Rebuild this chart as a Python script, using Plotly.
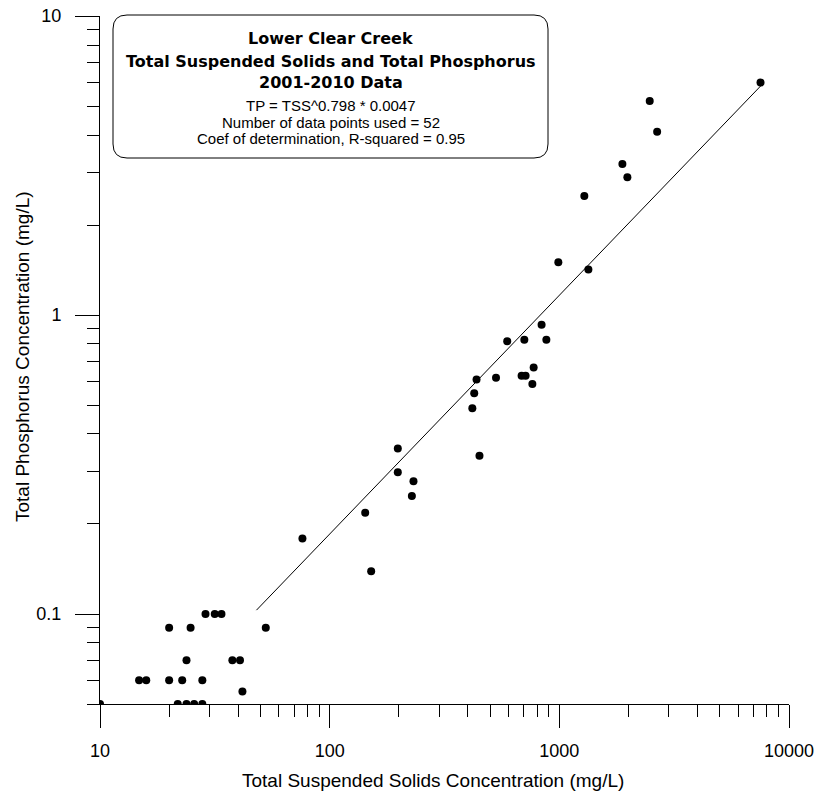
import plotly.graph_objects as go

# Observed data (TSS mg/L, TP mg/L)
tss = [10, 14.8, 15.9, 20, 20, 21.8, 23.8, 25.7, 27.9, 22.8, 23.8, 24.8, 27.9,
       28.8, 31.6, 33.8, 37.7, 40.7, 41.7, 52.7,
       76.1, 142.8, 151.6,
       198, 198, 231.7, 228, 449, 418, 426, 436, 530, 593, 704, 685, 713, 773, 763, 837, 878,
       7516, 2475, 2666, 1882, 1978, 1285, 990, 1338]
tp = [0.05, 0.06, 0.06, 0.09, 0.06, 0.05, 0.05, 0.05, 0.05, 0.06, 0.07, 0.09, 0.06,
      0.1, 0.1, 0.1, 0.07, 0.07, 0.055, 0.09,
      0.179, 0.218, 0.139,
      0.358, 0.298, 0.278, 0.248, 0.338, 0.488, 0.547, 0.608, 0.617, 0.817, 0.826, 0.626, 0.626, 0.667, 0.588, 0.927, 0.826,
      5.99, 5.2, 4.1, 3.2, 2.89, 2.5, 1.5, 1.42]

# Regression line endpoints
fit_x = [48, 7600]
fit_y = [0.103, 5.88]

x_major = [10, 100, 1000, 10000]
x_major_text = ["10", "100", "1000", "10000"]
y_major = [0.1, 1, 10]
y_major_text = ["0.1", "1", "10"]

x_minor = [d * m for d in (10, 100, 1000) for m in range(2, 10)]
y_minor = [round(d * m, 4) for d in (0.01, 0.1, 1) for m in range(5 if d == 0.01 else 2, 10)]

box_lines_bold = ["Lower Clear Creek", "Total Suspended Solids and Total Phosphorus", "2001-2010 Data"]
box_lines = ["TP = TSS^0.798 * 0.0047", "Number of data points used = 52",
             "Coef of determination, R-squared = 0.95"]
x_title = "Total Suspended Solids Concentration (mg/L)"
y_title = "Total Phosphorus Concentration (mg/L)"

fig = go.Figure()
fig.add_trace(go.Scatter(x=fit_x, y=fit_y, mode="lines",
                         line=dict(color="black", width=1), showlegend=False))
fig.add_trace(go.Scatter(x=tss, y=tp, mode="markers",
                         marker=dict(color="black", size=8), showlegend=False))

W, H = 817, 796
L, R, T, B = 100, 28, 16, 92
pw, ph = W - L - R, H - T - B

def px(xs):
    return (xs - L) / pw

def py(ys):
    return (H - B - ys) / ph

# Rounded box
x0, x1, y0, y1 = px(113), px(548), py(158), py(15)
rx, ry = 14 / pw, 14 / ph
path = (f"M {x0+rx},{y1} L {x1-rx},{y1} Q {x1},{y1} {x1},{y1-ry} "
        f"L {x1},{y0+ry} Q {x1},{y0} {x1-rx},{y0} L {x0+rx},{y0} "
        f"Q {x0},{y0} {x0},{y0+ry} L {x0},{y1-ry} Q {x0},{y1} {x0+rx},{y1} Z")
fig.add_shape(type="path", path=path, xref="paper", yref="paper",
              line=dict(color="black", width=1), fillcolor="white", layer="below")

cx = px(330.5)
bold_y = [38.5, 61, 82.5]
for txt, yy in zip(box_lines_bold, bold_y):
    fig.add_annotation(x=cx, y=py(yy), xref="paper", yref="paper", text=f"<b>{txt}</b>",
                       showarrow=False, xanchor="center", yanchor="middle",
                       font=dict(family="DejaVu Sans", size=16, color="black"))
small_y = [105.5, 122, 138.5]
for txt, yy in zip(box_lines, small_y):
    fig.add_annotation(x=cx, y=py(yy), xref="paper", yref="paper", text=txt,
                       showarrow=False, xanchor="center", yanchor="middle",
                       font=dict(family="Liberation Sans", size=15, color="black"))

# Axis titles
fig.add_annotation(x=px(433), y=py(780), xref="paper", yref="paper", text=x_title,
                   showarrow=False, xanchor="center", yanchor="middle",
                   font=dict(family="Liberation Sans", size=19, color="black"))
fig.add_annotation(x=px(22), y=py(357), xref="paper", yref="paper", text=y_title,
                   showarrow=False, xanchor="center", yanchor="middle", textangle=-90,
                   font=dict(family="Liberation Sans", size=19, color="black"))

fig.update_layout(
    width=W, height=H, margin=dict(l=L, r=R, t=T, b=B, autoexpand=False),
    paper_bgcolor="white", plot_bgcolor="white",
    font=dict(family="Liberation Sans", color="black"),
    xaxis=dict(type="log", range=[1, 4], showgrid=False, zeroline=False, automargin=False,
               showline=True, linecolor="black", linewidth=1,
               tickmode="array", tickvals=x_major, ticktext=x_major_text,
               ticks="outside", ticklen=23, tickcolor="black", tickwidth=1,
               tickfont=dict(size=18), ticklabelstandoff=7, ticklabeloverflow="allow",
               minor=dict(tickmode="array", tickvals=x_minor, ticks="outside",
                          ticklen=12, tickcolor="black", tickwidth=1, showgrid=False)),
    yaxis=dict(type="log", range=[-1.30103, 1.0001], showgrid=False, zeroline=False, automargin=False,
               showline=True, linecolor="black", linewidth=1,
               tickmode="array", tickvals=y_major, ticktext=y_major_text,
               ticks="outside", ticklen=24, tickcolor="black", tickwidth=1,
               tickfont=dict(size=18), ticklabelstandoff=10, ticklabeloverflow="allow",
               minor=dict(tickmode="array", tickvals=y_minor, ticks="outside",
                          ticklen=12, tickcolor="black", tickwidth=1, showgrid=False)),
)

fig.write_html("out.html", config={"displayModeBar": False},
               post_script="document.body.style.margin='0';document.body.style.overflow='hidden';")
